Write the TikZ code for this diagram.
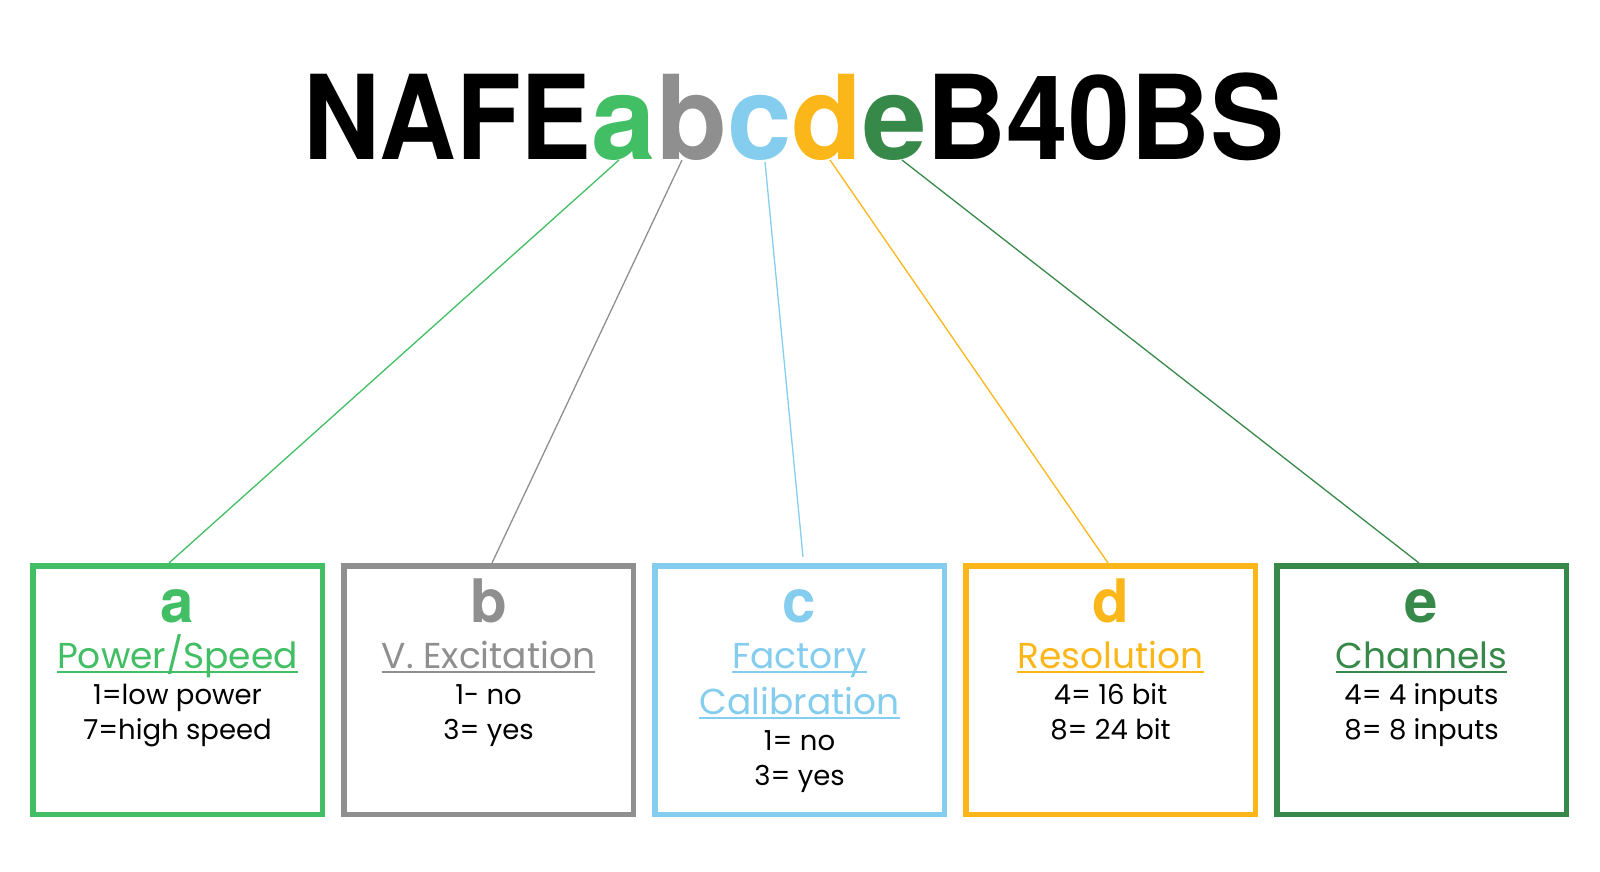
\documentclass[tikz,border=0pt]{standalone}
\usepackage{fontspec}
\setmainfont{Poppins}
\newfontfamily\heros{TeX Gyre Heros}
\usetikzlibrary{calc}
\definecolor{ca}{HTML}{42BE64}
\definecolor{cb}{HTML}{8F8F8F}
\definecolor{cc}{HTML}{85CDEE}
\definecolor{cd}{HTML}{FBB619}
\definecolor{ce}{HTML}{37894A}
\tikzset{
  keybox/.style={draw=#1, line width=5.5pt, minimum width=289.5pt, minimum height=248.5pt, inner sep=0pt},
  letter/.style={text=#1, font=\heros\bfseries\fontsize{60}{60}\selectfont, inner sep=0pt, anchor=base},
  head/.style={text=#1, font=\fontsize{36}{36}\selectfont, inner sep=0pt, anchor=base},
  val/.style={text=black, font=\fontsize{27.5}{27.5}\selectfont, inner sep=0pt, anchor=base},
  ul/.style={draw=#1, line width=2pt},
  conn/.style={draw=#1, line width=1.3pt},
}
\begin{document}
\begin{tikzpicture}[x=1pt,y=-1pt]
\useasboundingbox (0,0) rectangle (1600,871);
% title
\node[inner sep=0pt, anchor=base west] (title) at (303,159)
  {\heros\bfseries\fontsize{117}{117}\selectfont\scalebox{0.908}[1]{NAFE}\scalebox{0.99}[1]{\textcolor{ca}{a}\textcolor{cb}{b}\textcolor{cc}{c}\textcolor{cd}{d}\textcolor{ce}{e}}\scalebox{0.948}[1]{B40BS}};
\coordinate (ta) at (619,160);
\coordinate (tb) at (682,160);
\coordinate (tc) at (765,162);
\coordinate (td) at (830,160);
\coordinate (te) at (902,160);
% boxes
\node[keybox=ca] (boxa) at (177.5,690) {};
\node[keybox=cb] (boxb) at (488.5,690) {};
\node[keybox=cc] (boxc) at (799.5,690) {};
\node[keybox=cd] (boxd) at (1110.5,690) {};
\node[keybox=ce] (boxe) at (1421.5,690) {};
\coordinate (ea) at (169,563);
\coordinate (eb) at (492,563);
\coordinate (ec) at (803,557);
\coordinate (ed) at (1108,563);
\coordinate (ee) at (1419,563);
% connectors
\draw[conn=ca] (ta) -- (ea);
\draw[conn=cb] (tb) -- (eb);
\draw[conn=cc] (tc) -- (ec);
\draw[conn=cd] (td) -- (ed);
\draw[conn=ce] (te) -- (ee);
% box a
\node[letter=ca] (la) at (177.5,622) {a};
\node[head=ca] (ha) at (177.5,668) {Power/Speed};
\draw[ul=ca] ($(ha.base west)+(0,4)$) -- ($(ha.base east)+(0,4)$);
\node[val] (va1) at (177.5,704) {1=low power};
\node[val] (va2) at (177.5,739) {7=high speed};
% box b
\node[letter=cb] (lb) at (488.5,622) {b};
\node[head=cb] (hb) at (488.5,668) {V. Excitation};
\draw[ul=cb] ($(hb.base west)+(0,4)$) -- ($(hb.base east)+(0,4)$);
\node[val] (vb1) at (488.5,704) {1- no};
\node[val] (vb2) at (488.5,739) {3= yes};
% box c
\node[letter=cc] (lc) at (799.5,622) {c};
\node[head=cc] (hc1) at (799.5,668) {Factory};
\draw[ul=cc] ($(hc1.base west)+(0,4)$) -- ($(hc1.base east)+(0,4)$);
\node[head=cc] (hc2) at (799.5,714) {Calibration};
\draw[ul=cc] ($(hc2.base west)+(0,4)$) -- ($(hc2.base east)+(0,4)$);
\node[val] (vc1) at (799.5,750) {1= no};
\node[val] (vc2) at (799.5,785) {3= yes};
% box d
\node[letter=cd] (ld) at (1110.5,622) {d};
\node[head=cd] (hd) at (1110.5,668) {Resolution};
\draw[ul=cd] ($(hd.base west)+(0,4)$) -- ($(hd.base east)+(0,4)$);
\node[val] (vd1) at (1110.5,704) {4= 16 bit};
\node[val] (vd2) at (1110.5,739) {8= 24 bit};
% box e
\node[letter=ce] (le) at (1421.5,622) {e};
\node[head=ce] (he) at (1421.5,668) {Channels};
\draw[ul=ce] ($(he.base west)+(0,4)$) -- ($(he.base east)+(0,4)$);
\node[val] (ve1) at (1421.5,704) {4= 4 inputs};
\node[val] (ve2) at (1421.5,739) {8= 8 inputs};
\end{tikzpicture}
\end{document}
